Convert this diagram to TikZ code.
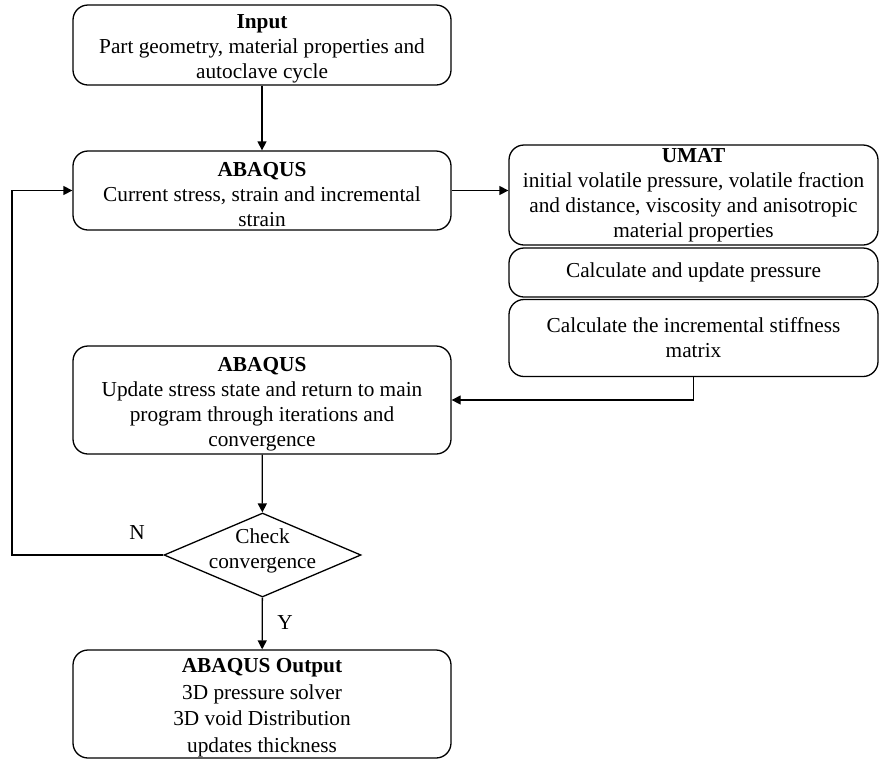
\documentclass[tikz,border=0pt]{standalone}
\usepackage{fontspec}
\setmainfont{Liberation Serif}
\usetikzlibrary{shapes.geometric,arrows.meta}
\newcommand\toppad{\rule{0pt}{22pt}}
\tikzset{
  box/.style={draw, rounded corners=15pt, line width=1.3pt, align=center, inner sep=0pt, font=\fontsize{21.3}{25}\selectfont},
  decision/.style={draw, diamond, line width=1.3pt, minimum width=197pt, minimum height=84pt, inner sep=0pt},
  arr/.style={-{Triangle[length=9pt,width=9pt]}, line width=1.3pt},
  lab/.style={font=\fontsize{21.3}{25}\selectfont, align=center},
}

\begin{document}
\begin{tikzpicture}[x=1pt,y=-1pt]
  \useasboundingbox (0,0) rectangle (880,761);
  % main column
  \node[box, minimum width=378, minimum height=80] (input) at (262,45)
    {\toppad\textbf{Input}\\Part geometry, material properties and\\autoclave cycle};
  \node[box, minimum width=378, minimum height=79] (aba1) at (262,190.5)
    {\toppad\textbf{ABAQUS}\\Current stress, strain and incremental\\strain};
  \node[box, minimum width=378, minimum height=108] (aba2) at (262,400)
    {\toppad\textbf{ABAQUS}\\Update stress state and return to main\\program through iterations and\\convergence};
  \node[decision, label={[lab, yshift=4pt]center:Check\\convergence}] (chk) at (262.5,555) {};
  \node[box, minimum width=378, minimum height=108, font=\fontsize{21.3}{26.5}\selectfont] (out) at (262,704)
    {\toppad\textbf{ABAQUS Output}\\3D pressure solver\\3D void Distribution\\updates thickness};
  % UMAT column
  \node[box, minimum width=369, minimum height=100] (umat) at (693.5,195)
    {\textbf{UMAT}\\initial volatile pressure, volatile fraction\\and distance, viscosity and anisotropic\\material properties};
  \node[box, minimum width=369, minimum height=49] (press) at (693.5,272.5)
    {Calculate and update pressure};
  \node[box, minimum width=369, minimum height=77] (stiff) at (693.5,338)
    {Calculate the incremental stiffness\\matrix};
  % labels
  \node[lab] (no) at (137,533) {N};
  \node[lab] (yes) at (285,623) {Y};
  \coordinate (loop) at (12,0);
  % connectors
  \draw[arr] (input) -- (aba1);
  \draw[arr] (aba1.east) -- (aba1.east -| umat.west);
  \draw[arr] (stiff.south) |- (aba2.east);
  \draw[arr] (aba2) -- (chk);
  \draw[arr] (chk) -- (out);
  \draw[arr] (chk.west) -- (chk.west -| loop) |- (aba1.west);
\end{tikzpicture}
\end{document}
